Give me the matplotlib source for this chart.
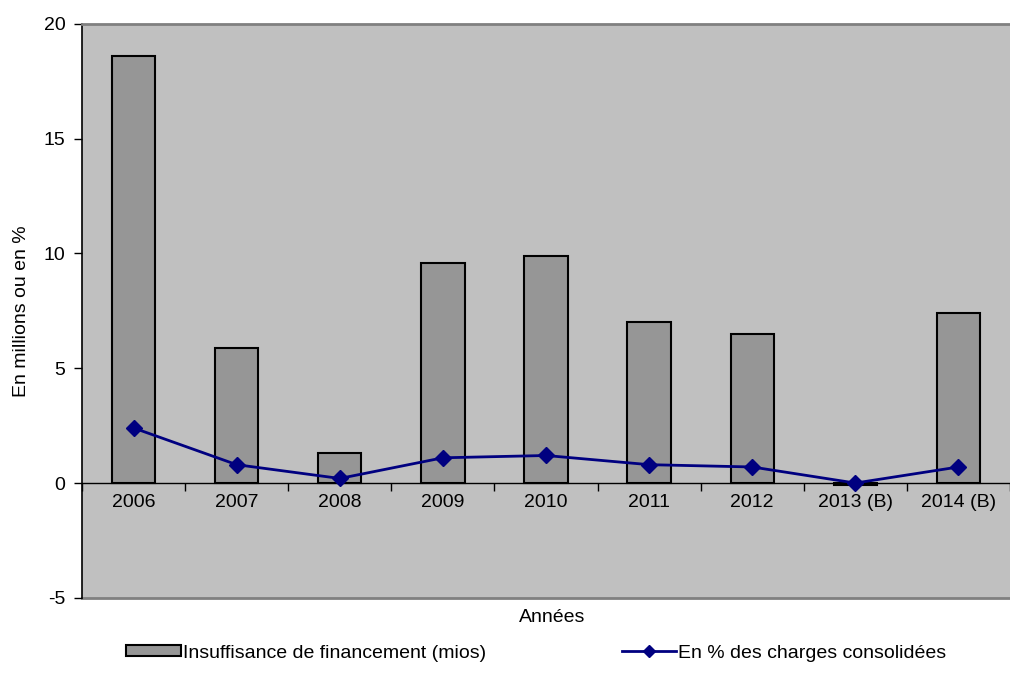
import numpy as np
import matplotlib
matplotlib.use('Agg')
import matplotlib.pyplot as plt
from matplotlib.patches import Patch
from matplotlib.lines import Line2D

years = ['2006', '2007', '2008', '2009', '2010', '2011', '2012', '2013 (B)', '2014 (B)']
insuffisance = [18.6, 5.9, 1.3, 9.6, 9.9, 7.0, 6.5, -0.1, 7.4]
pct_charges = [2.4, 0.8, 0.2, 1.1, 1.2, 0.8, 0.7, 0.0, 0.7]

plt.rcParams['font.family'] = ['Liberation Sans', 'DejaVu Sans']
plt.rcParams['font.size'] = 14

fig = plt.figure(figsize=(10.1, 6.84), dpi=100)
ax = fig.add_axes([0.0812, 0.126, 0.9188, 0.839])
ax.set_facecolor('#c0c0c0')

x = np.arange(len(years))
ax.bar(x, insuffisance, width=0.42, color='#969696', edgecolor='black', linewidth=1.5, zorder=2)
ax.plot(x, pct_charges, color='#000080', linewidth=2, marker='D', markersize=8, zorder=3)

ax.set_xlim(-0.5, len(years) - 0.5)
ax.set_ylim(-5, 20)
ax.set_yticks([-5, 0, 5, 10, 15, 20])
ax.set_yticklabels(['-5', '0', '5', '10', '15', '20'])
ax.tick_params(axis='y', direction='out', length=6, width=1, pad=6)

# x axis sits at zero, ticks between categories, labels centred
ax.spines['bottom'].set_position(('data', 0))
ax.spines['bottom'].set_linewidth(1)
ax.set_xticks(np.arange(-0.5, len(years), 1.0))
ax.set_xticklabels([])
ax.set_xticks(x, minor=True)
ax.set_xticklabels(years, minor=True)
ax.tick_params(axis='x', which='major', direction='out', length=6, width=1)
ax.tick_params(axis='x', which='minor', length=0, pad=8)

ax.spines['left'].set_linewidth(1.2)
ax.spines['right'].set_visible(False)
ax.spines['top'].set_color('#808080')
ax.spines['top'].set_linewidth(2)
# gray border along the bottom of the plot area
ax.axhline(-5, color='#808080', linewidth=2, zorder=1, clip_on=False)

ax.set_ylabel('En millions ou en %', labelpad=10)
fig.text(0.547, 0.097, 'Années', ha='center', va='center', fontsize=14)

handles = [
    Patch(facecolor='#969696', edgecolor='black', linewidth=1.5),
    Line2D([0], [0], color='#000080', linewidth=2, marker='D', markersize=6),
]
labels = ['Insuffisance de financement (mios)', 'En % des charges consolidées']
fig.legend(handles, labels, loc='center', bbox_to_anchor=(0.531, 0.045), ncol=2,
           frameon=False, handlelength=2.8, handleheight=0.5, columnspacing=7,
           handletextpad=0.1, fontsize=14)

fig.savefig('out.png', dpi=100)
